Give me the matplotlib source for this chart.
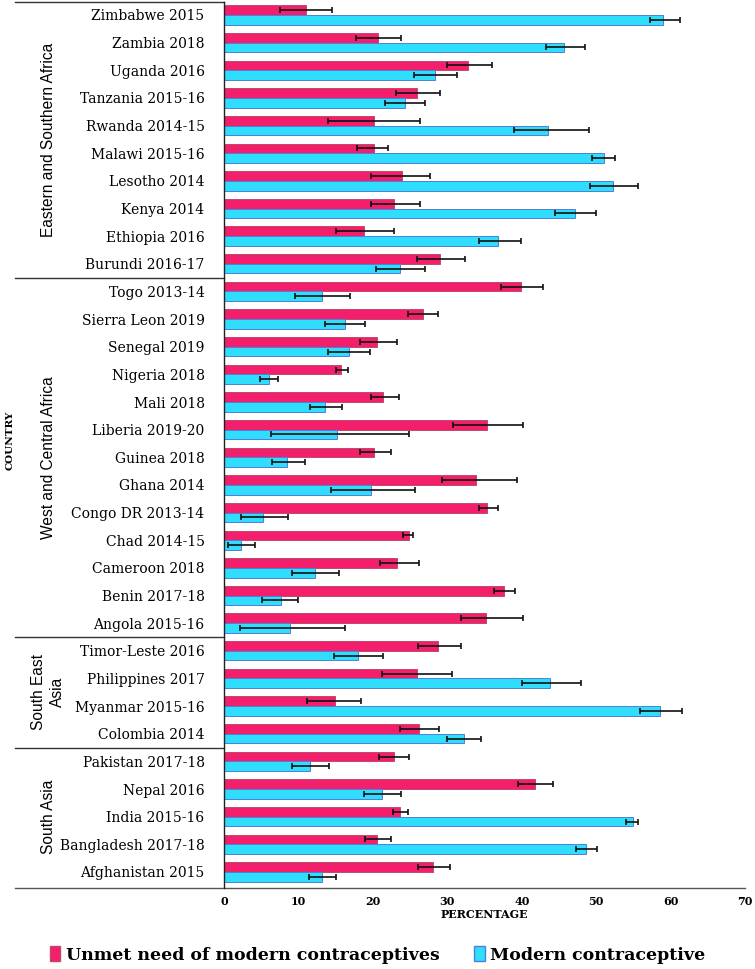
import numpy as np
import matplotlib.pyplot as plt
from matplotlib.patches import Patch

# ----------------------
# Data (top to bottom)
# ----------------------
countries = [
    "Zimbabwe 2015", "Zambia 2018", "Uganda 2016", "Tanzania 2015-16",
    "Rwanda 2014-15", "Malawi 2015-16", "Lesotho 2014", "Kenya 2014",
    "Ethiopia 2016", "Burundi 2016-17",
    "Togo 2013-14", "Sierra Leon 2019", "Senegal 2019", "Nigeria 2018",
    "Mali 2018", "Liberia 2019-20", "Guinea 2018", "Ghana 2014",
    "Congo DR 2013-14", "Chad 2014-15", "Cameroon 2018", "Benin 2017-18",
    "Angola 2015-16",
    "Timor-Leste 2016", "Philippines 2017", "Myanmar 2015-16", "Colombia 2014",
    "Pakistan 2017-18", "Nepal 2016", "India 2015-16", "Bangladesh 2017-18",
    "Afghanistan 2015",
]

unmet = [11.0, 20.7, 32.8, 25.9, 20.1, 20.1, 23.9, 22.9, 18.8, 29.0,
         39.9, 26.7, 20.6, 15.7, 21.4, 35.3, 20.2, 33.8, 35.3, 24.8, 23.3, 37.6, 35.2,
         28.8, 25.9, 14.9, 26.2,
         22.8, 41.8, 23.7, 20.6, 28.1]
unmet_lo = [7.5, 17.7, 29.9, 23.1, 14.0, 17.9, 19.8, 19.7, 15.0, 25.9,
            37.2, 24.7, 18.3, 15.0, 19.7, 30.8, 18.3, 29.3, 34.2, 24.1, 21.0, 36.3, 31.9,
            26.1, 21.2, 11.2, 23.6,
            20.8, 39.5, 22.7, 18.9, 26.1]
unmet_hi = [14.5, 23.8, 36.0, 29.0, 26.4, 22.1, 27.7, 26.4, 22.9, 32.4,
            42.9, 28.8, 23.3, 16.6, 23.5, 40.2, 22.5, 39.4, 36.8, 25.4, 26.2, 39.1, 40.2,
            31.9, 30.7, 18.4, 28.9,
            24.9, 44.2, 24.7, 22.5, 30.3]

modern = [59.0, 45.7, 28.4, 24.3, 43.5, 51.0, 52.2, 47.1, 36.8, 23.6,
          13.2, 16.2, 16.8, 6.1, 13.6, 15.2, 8.5, 19.7, 5.2, 2.3, 12.2, 7.6, 8.9,
          18.0, 43.8, 58.6, 32.2,
          11.5, 21.2, 54.9, 48.6, 13.2]
modern_lo = [57.2, 43.2, 25.5, 21.6, 38.9, 49.5, 49.2, 44.5, 34.2, 20.4,
             9.6, 13.6, 14.0, 4.9, 11.5, 6.3, 6.5, 14.4, 2.3, 0.5, 9.2, 5.1, 2.2,
             14.8, 40.0, 55.9, 29.9,
             9.2, 18.8, 54.0, 47.3, 11.4]
modern_hi = [61.2, 48.5, 31.3, 27.0, 49.1, 52.6, 55.6, 50.0, 39.9, 27.0,
             16.9, 18.9, 19.6, 7.3, 15.8, 24.9, 10.9, 25.6, 8.6, 4.1, 15.5, 10.0, 16.3,
             21.4, 48.0, 61.6, 34.5,
             14.1, 23.8, 55.6, 50.1, 15.1]

groups = ["Eastern and Southern Africa", "West and Central Africa",
          "South East\nAsia", "South Asia"]
group_sizes = [10, 13, 4, 5]

xticks = [0, 10, 20, 30, 40, 50, 60, 70]

RED = "#F41F6C"
BLUE = "#2FDDFD"

# ----------------------
# Plot
# ----------------------
fig = plt.figure(figsize=(7.55, 9.69), dpi=100)
ax = fig.add_axes([224 / 755, 1 - 888 / 969, 521 / 755, 886 / 969])

y = np.arange(len(countries))
h = 0.35
unmet = np.array(unmet)
modern = np.array(modern)
err_u = [unmet - np.array(unmet_lo), np.array(unmet_hi) - unmet]
err_m = [modern - np.array(modern_lo), np.array(modern_hi) - modern]

ekw = dict(ecolor="#111111", elinewidth=1.2, capsize=2.5, capthick=1.2)
ax.barh(y - h / 2, unmet, height=h, color=RED, edgecolor="#c04a66",
        linewidth=0.7, xerr=err_u, error_kw=ekw, zorder=2)
ax.barh(y + h / 2, modern, height=h, color=BLUE, edgecolor="#4f7fd8",
        linewidth=0.7, xerr=err_m, error_kw=ekw, zorder=2)

ax.set_ylim(len(countries) - 1 + 0.58, -0.47)
ax.set_xlim(0, 70)

ax.set_yticks(y)
ax.set_yticklabels(countries, family="DejaVu Serif", fontsize=10)
ax.tick_params(axis="y", length=0, pad=14)
ax.set_xticks(xticks)
ax.set_xticklabels([str(t) for t in xticks], family="DejaVu Serif",
                   fontsize=8, fontweight="bold")
ax.tick_params(axis="x", length=0, pad=6)

for s in ["top", "right", "bottom"]:
    ax.spines[s].set_visible(False)
ax.spines["left"].set_color("#222222")
ax.spines["left"].set_linewidth(1.0)

# frame lines extending into the label area
xl = -209 / 521
ax.plot([xl, 1.0], [0, 0], transform=ax.transAxes, color="#555555",
        lw=1.0, clip_on=False)
ax.plot([xl, 0], [1, 1], transform=ax.transAxes, color="#333333",
        lw=1.0, clip_on=False)
ytr = ax.get_yaxis_transform()
start = 0
for g, n in zip(groups, group_sizes):
    end = start + n
    if end < len(countries):
        ax.plot([xl, 0], [end - 0.5, end - 0.5], transform=ytr,
                color="#333333", lw=1.0, clip_on=False)
    mid = (start + end - 1) / 2
    ax.text(-176 / 521, mid, g, transform=ytr, rotation=90, ha="center",
            va="center", family="Liberation Sans", fontsize=11.2,
            multialignment="center", linespacing=1.3)
    start = end

ax.set_xlabel("PERCENTAGE", family="DejaVu Serif", fontsize=8,
              fontweight="bold", labelpad=1)
fig.text(10 / 755, 1 - 440 / 969, "COUNTRY", rotation=90, ha="center",
         va="center", family="DejaVu Serif", fontsize=7.5, fontweight="bold")

handles = [Patch(facecolor=RED, edgecolor="#c04a66"),
           Patch(facecolor=BLUE, edgecolor="#4f7fd8")]
fig.legend(handles, ["Unmet need of modern contraceptives", "Modern contraceptive"],
           loc="center", bbox_to_anchor=(0.5, 1 - 955 / 969), ncol=2,
           frameon=False, prop={"family": "DejaVu Serif", "weight": "bold",
                                "size": 12.5},
           handlelength=0.6, handleheight=0.9, handletextpad=0.3,
           columnspacing=2.0)

fig.savefig("out.png", dpi=100)
